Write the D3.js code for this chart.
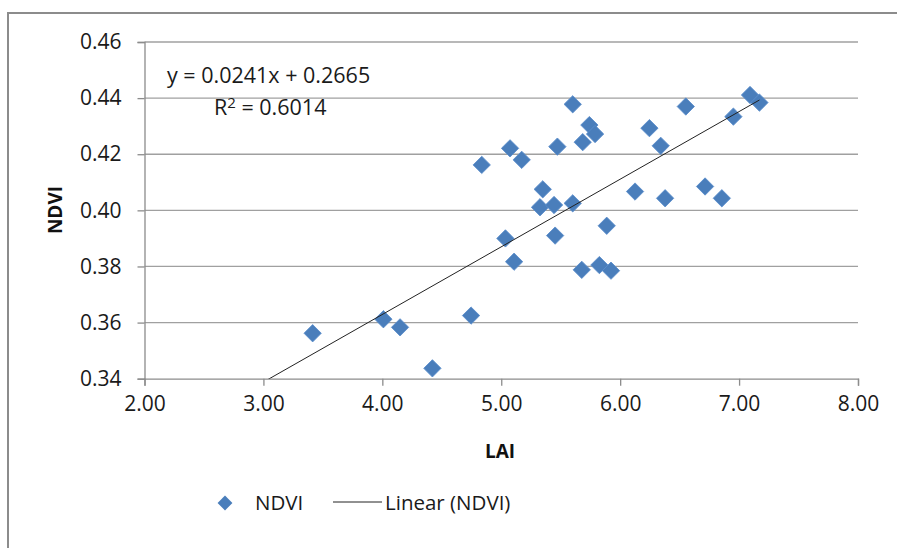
<!DOCTYPE html>
<html>
<head>
<meta charset="utf-8">
<script src="https://cdn.jsdelivr.net/npm/d3@7"></script>
<style>
  body { margin: 0; background: #fff; }
  svg { display: block; font-family: "Open Sans", sans-serif; }
</style>
</head>
<body>
<svg id="chart" width="897" height="548"></svg>
<script>
// LAI (x) values
const lai = [3.414, 4.009, 4.149, 4.421, 4.746, 4.836, 5.035, 5.074, 5.108, 5.172,
             5.326, 5.349, 5.444, 5.453, 5.472, 5.601, 5.601, 5.677, 5.685, 5.741,
             5.789, 5.825, 5.887, 5.923, 6.125, 6.246, 6.341, 6.378, 6.552, 6.714,
             6.855, 6.952, 7.092, 7.171];
// NDVI (y) values
const ndvi = [0.3562, 0.3612, 0.3583, 0.3437, 0.3625, 0.4162, 0.3900, 0.4221, 0.3817, 0.4180,
              0.4011, 0.4075, 0.4019, 0.3910, 0.4227, 0.4378, 0.4025, 0.3788, 0.4243, 0.4304,
              0.4272, 0.3805, 0.3945, 0.3785, 0.4067, 0.4293, 0.4230, 0.4043, 0.4370, 0.4085,
              0.4043, 0.4334, 0.4411, 0.4384];
const xTicks = [2, 3, 4, 5, 6, 7, 8];
const yTicks = [0.34, 0.36, 0.38, 0.40, 0.42, 0.44, 0.46];
const slope = 0.0241, intercept = 0.2665;
const eqText = "y = 0.0241x + 0.2665";
const r2Value = "0.6014";

const svg = d3.select("#chart");
const L = 144.5, R = 858, T = 42, B = 378.7;
const x = d3.scaleLinear().domain([2, 8]).range([L, R]);
const y = d3.scaleLinear().domain([0.34, 0.46]).range([B, T]);

// outer chart border
svg.append("path").attr("d", `M8,548 V13 H897`).attr("fill", "none")
  .attr("stroke", "#8c8c8c").attr("stroke-width", 2);

// gridlines
svg.append("g").selectAll("line").data(yTicks.slice(1)).join("line")
  .attr("x1", L).attr("x2", R).attr("y1", d => y(d)).attr("y2", d => y(d))
  .attr("stroke", "#a0a0a0").attr("stroke-width", 1.3);

// y axis
const yAxis = svg.append("g").attr("transform", `translate(${L},0)`)
  .call(d3.axisLeft(y).tickValues(yTicks).tickFormat(d3.format(".2f")).tickSize(7).tickPadding(16));
yAxis.select(".domain").attr("stroke", "#8c8c8c").attr("stroke-width", 1.3);
yAxis.selectAll(".tick line").attr("stroke", "#8c8c8c").attr("stroke-width", 1.3);
yAxis.selectAll("text").attr("font-size", 21).attr("fill", "#1a1a1a").attr("font-family", "Open Sans");

// x axis
const xAxis = svg.append("g").attr("transform", `translate(0,${B})`)
  .call(d3.axisBottom(x).tickValues(xTicks).tickFormat(d3.format(".2f")).tickSize(7).tickPadding(10));
xAxis.select(".domain").attr("stroke", "#8c8c8c").attr("stroke-width", 1.3);
xAxis.selectAll(".tick line").attr("stroke", "#8c8c8c").attr("stroke-width", 1.3);
xAxis.selectAll("text").attr("font-size", 21).attr("fill", "#1a1a1a").attr("font-family", "Open Sans");

// clip
svg.append("clipPath").attr("id", "plotclip").append("rect")
  .attr("x", L).attr("y", T).attr("width", R - L).attr("height", B - T);

// points
const diamond = d3.symbol().type(d3.symbolSquare).size(150);
svg.append("g").selectAll("path").data(lai.map((v, i) => [v, ndvi[i]])).join("path")
  .attr("d", diamond)
  .attr("transform", d => `translate(${x(d[0])},${y(d[1])}) rotate(45)`)
  .attr("fill", "#4a7ebb").attr("stroke", "#5a8ccb").attr("stroke-width", 0.8);

// trendline
const xmax = d3.max(lai);
svg.append("line").attr("clip-path", "url(#plotclip)")
  .attr("x1", x(2)).attr("y1", y(slope * 2 + intercept))
  .attr("x2", x(xmax)).attr("y2", y(slope * xmax + intercept))
  .attr("stroke", "#222").attr("stroke-width", 1);

// equation
svg.append("text").attr("x", 167).attr("y", 83).attr("font-size", 21.5).attr("fill", "#1a1a1a")
  .text(eqText);
const r2 = svg.append("text").attr("x", 214).attr("y", 115).attr("font-size", 21.5).attr("fill", "#1a1a1a");
r2.append("tspan").text("R");
r2.append("tspan").attr("font-size", 15).attr("dy", -7).text("2");
r2.append("tspan").attr("dy", 7).text(" = " + r2Value);

// axis titles
svg.append("text").attr("x", 500).attr("y", 458).attr("text-anchor", "middle")
  .attr("font-size", 19).attr("font-weight", "bold").attr("fill", "#111").text("LAI");
svg.append("text").attr("transform", "translate(62,210) rotate(-90)").attr("text-anchor", "middle")
  .attr("font-size", 19).attr("font-weight", "bold").attr("fill", "#111").text("NDVI");

// legend
svg.append("path").attr("d", diamond.size(110)).attr("transform", "translate(225,503) rotate(45)")
  .attr("fill", "#4a7ebb");
svg.append("text").attr("x", 255).attr("y", 510).attr("font-size", 20.5).attr("fill", "#1a1a1a").text("NDVI");
svg.append("line").attr("x1", 333).attr("x2", 382).attr("y1", 502).attr("y2", 502)
  .attr("stroke", "#222").attr("stroke-width", 1);
svg.append("text").attr("x", 385).attr("y", 510).attr("font-size", 20.5).attr("fill", "#1a1a1a").text("Linear (NDVI)");
</script>
</body>
</html>
